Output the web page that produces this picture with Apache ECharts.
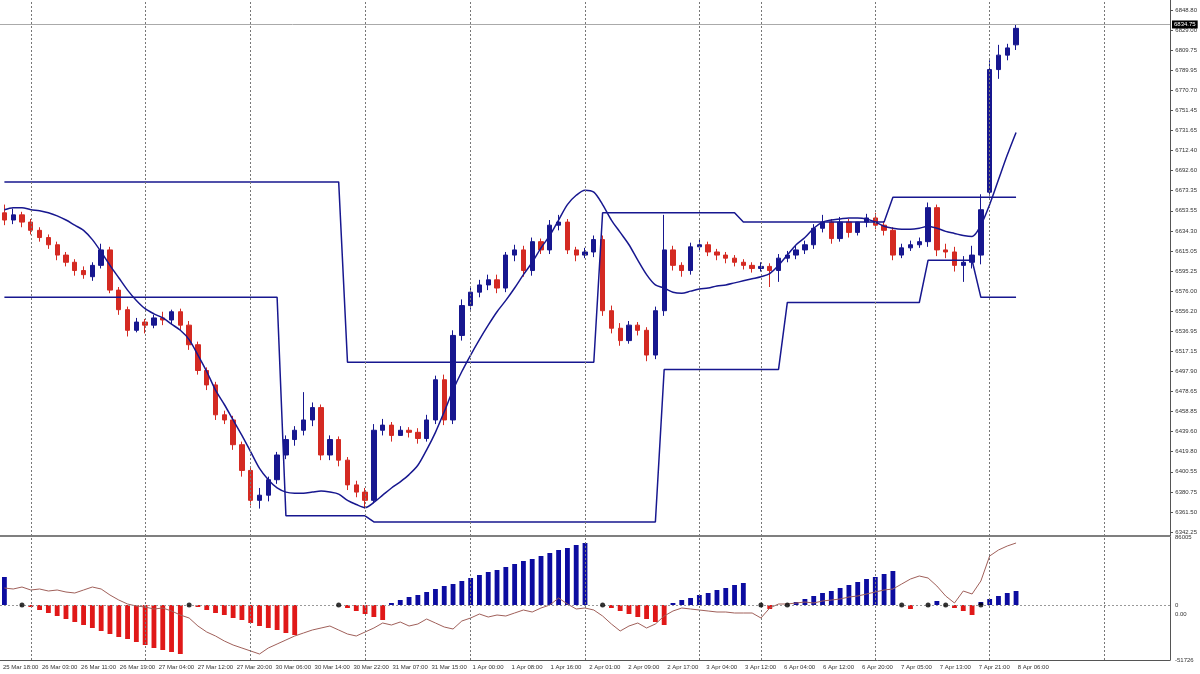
<!DOCTYPE html>
<html><head><meta charset="utf-8">
<script src="https://cdn.jsdelivr.net/npm/echarts@6/dist/echarts.min.js"></script>
<style>html,body{margin:0;padding:0;background:#fff}#c{width:1200px;height:674px}</style>
</head><body><div id="c"></div>
<script>
const opens = [6652,6645,6650,6643,6635,6628,6621,6611,6604,6596,
6590,6601,6616,6577,6558,6538,6546,6543,6550,6548,
6556,6543,6524,6499,6485,6456,6451,6427,6402,6373,
6378,6393,6417,6432,6441,6451,6463,6417,6432,6412,
6388,6381,6373,6441,6446,6436,6441,6439,6433,6451,
6490,6451,6533,6562,6575,6582,6587,6579,6611,6616,
6596,6624,6616,6640,6643,6616,6611,6614,6626,6557,
6540,6528,6543,6538,6514,6557,6616,6601,6596,6619,
6621,6614,6611,6608,6604,6601,6598,6600,6596,6608,
6611,6616,6621,6637,6643,6627,6643,6633,6643,6647,
6640,6635,6611,6618,6621,6624,6657,6616,6614,6601,
6604,6611,6672,6791,6805,6815];
const closes = [6645,6650,6643,6635,6628,6621,6611,6604,6596,6592,
6601,6616,6577,6558,6538,6546,6543,6550,6548,6556,
6543,6524,6499,6485,6456,6451,6427,6402,6373,6378,
6393,6417,6432,6441,6451,6463,6417,6432,6412,6388,
6381,6373,6441,6446,6436,6441,6439,6433,6451,6490,
6451,6533,6562,6575,6582,6587,6579,6611,6616,6596,
6624,6616,6640,6643,6616,6611,6614,6626,6557,6540,
6528,6543,6538,6514,6557,6616,6601,6596,6619,6621,
6614,6611,6608,6604,6601,6598,6600,6596,6608,6611,
6616,6621,6637,6643,6627,6643,6633,6643,6647,6640,
6635,6611,6618,6621,6624,6657,6616,6614,6601,6604,
6611,6655,6791,6805,6812,6831];
const highs = [6660,6656,6653,6646,6638,6631,6624,6614,6607,6600,
6604,6622,6619,6580,6561,6550,6549,6553,6556,6558,
6559,6547,6527,6502,6488,6460,6455,6430,6406,6385,
6396,6420,6436,6445,6478,6468,6466,6436,6435,6415,
6392,6385,6447,6452,6449,6445,6444,6443,6456,6494,
6495,6538,6568,6580,6587,6592,6592,6614,6621,6620,
6628,6627,6645,6650,6646,6619,6618,6630,6630,6562,
6545,6547,6546,6541,6561,6650,6620,6604,6623,6627,
6624,6617,6614,6611,6607,6604,6604,6603,6612,6615,
6620,6625,6641,6650,6646,6648,6646,6640,6651,6652,
6644,6638,6622,6625,6628,6662,6660,6622,6619,6610,
6620,6670,6800,6815,6816,6835];
const lows = [6640,6641,6638,6631,6624,6617,6606,6600,6591,6588,
6586,6598,6574,6553,6532,6536,6535,6540,6543,6544,
6538,6519,6495,6480,6451,6447,6422,6396,6368,6365,
6372,6389,6413,6426,6436,6445,6412,6412,6406,6383,
6376,6365,6370,6436,6430,6436,6434,6428,6430,6447,
6446,6447,6528,6558,6570,6577,6574,6575,6605,6590,
6591,6612,6612,6635,6612,6605,6608,6609,6552,6535,
6523,6525,6533,6508,6510,6552,6596,6590,6592,6614,
6610,6606,6603,6600,6597,6594,6595,6580,6585,6604,
6607,6612,6617,6633,6622,6624,6628,6630,6638,6636,
6630,6606,6608,6615,6618,6619,6610,6608,6595,6585,
6598,6602,6668,6782,6800,6810];
const maLine = [6655,6657,6657,6655,6654,6652,6649,6645,6640,6635,
6626,6614,6601,6589,6577,6567,6559,6554,6550,6544,
6538,6529,6514,6498,6480,6466,6451,6436,6420,6404,
6393,6385,6381,6380,6380,6381,6382,6381,6379,6373,
6369,6366,6371,6378,6385,6391,6398,6407,6422,6439,
6459,6480,6498,6514,6529,6543,6556,6567,6579,6592,
6604,6618,6630,6645,6660,6669,6674,6672,6660,6645,
6633,6621,6606,6592,6582,6579,6575,6574,6576,6578,
6579,6581,6582,6584,6586,6588,6590,6593,6601,6611,
6621,6628,6637,6643,6645,6646,6647,6647,6646,6643,
6639,6637,6636,6636,6637,6639,6637,6634,6632,6630,
6629,6640,6660,6684,6708,6730];
const upperBand = [[0,6682],[38,6682],[39,6507],[67,6507],[68,6652],[83,6652],[84,6643],[100,6643],[101,6667],[115,6667]];
const lowerBand = [[0,6570],[31,6570],[32,6358],[41,6358],[42,6352],[74,6352],[75,6500],[88,6500],[89,6565],[104,6565],[105,6606],[110,6606],[111,6570],[115,6570]];
const histValues = [28,'-','-',
-2,-5,-8,-11,-14,-17,-20,-23,-26,-29,-32,-34,-37,-40,-43,-45,-47,-49,
'-',
-2,-5,-8,-10,-13,-15,-18,-21,-23,-25,-28,-30,
'-','-','-','-','-',
-3,-6,-9,-12,-15,
2,5,8,10,13,16,19,21,24,27,30,33,35,38,41,44,46,49,52,55,57,60,62,
'-','-',
-3,-6,-9,-12,-14,-17,-20,
2,5,7,10,12,15,17,20,22,
'-','-',-4,'-','-',
3,6,9,12,14,17,20,23,26,28,31,34,
'-',-4,'-','-',4,'-',-3,-6,-10,
3,6,9,12,14];
const dotIdx = [2,21,38,68,86,89,102,105,107,111];
const flowLine = [26,25,27,24,25,23,24,22,21,24,
27,25,19,14,10,8,7,5,6,3,
-1,-4,-12,-18,-22,-27,-31,-34,-37,-40,
-34,-30,-26,-22,-19,-16,-14,-12,-16,-20,
-22,-18,-14,-9,-11,-8,-12,-10,-5,-9,
-13,-15,-7,-4,0,-3,-1,-2,1,4,
2,6,9,16,10,5,6,4,-2,-10,
-17,-12,-9,-14,-10,-2,3,6,5,4,
3,2,2,1,1,1,-4,6,10,10,
11,12,11,13,14,15,17,18,20,22,
24,25,30,35,38,36,28,18,11,23,
20,33,58,64,68,71];
const daySeparators = [3,16,28,41,53,66,79,86,99,112,125];
const priceTicks = ['6342.25','6361.50','6380.75','6400.55','6419.80','6439.60','6458.85','6478.65','6497.90','6517.15','6536.95','6556.20','6576.00','6595.25','6615.05','6634.30','6653.55','6673.35','6692.60','6712.40','6731.65','6751.45','6770.70','6789.95','6809.75','6829.00','6848.80'];
const timeLabels = ['25 Mar 18:00','26 Mar 03:00','26 Mar 11:00','26 Mar 19:00','27 Mar 04:00','27 Mar 12:00','27 Mar 20:00','30 Mar 06:00','30 Mar 14:00','30 Mar 22:00','31 Mar 07:00','31 Mar 15:00','1 Apr 00:00','1 Apr 08:00','1 Apr 16:00','2 Apr 01:00','2 Apr 09:00','2 Apr 17:00','3 Apr 04:00','3 Apr 12:00','6 Apr 04:00','6 Apr 12:00','6 Apr 20:00','7 Apr 05:00','7 Apr 13:00','7 Apr 21:00','8 Apr 06:00','','','',''];
const lastPrice = 6834.75;

const NB = 133;
const cats = Array.from({length:NB},(_,i)=>String(i));
const ohlc = opens.map((o,i)=>[o,closes[i],lows[i],highs[i]]);
const BLUE='#17178f', RED='#d42a22', FONT='Liberation Sans';
const sepLines = daySeparators.map(i=>({xAxis:String(i),lineStyle:{color:'#777',type:[2,2],width:1},label:{show:false}}));

const chart = echarts.init(document.getElementById('c'));
chart.setOption({
  animation:false, backgroundColor:'#fff',
  grid:[
    {left:0,width:1170,top:0,height:536},
    {left:0,width:1170,top:537,height:123},
    {left:1170,width:1,top:10,height:522},
    {left:19,width:1170,top:660,height:1}
  ],
  xAxis:[
    {gridIndex:0,type:'category',data:cats,axisLine:{show:true,onZero:false,lineStyle:{color:'#555',width:1.5}},axisTick:{show:false},axisLabel:{show:false},splitLine:{show:false}},
    {gridIndex:1,type:'category',data:cats,axisLine:{show:true,onZero:false,lineStyle:{color:'#555',width:1}},axisTick:{show:false},axisLabel:{show:false}},
    {gridIndex:2,type:'value',show:false},
    {gridIndex:3,type:'category',data:timeLabels,boundaryGap:false,axisLine:{show:false,onZero:false},axisTick:{show:false},
     axisLabel:{interval:0,fontSize:6,fontFamily:FONT,color:'#333',margin:3,hideOverlap:false}}
  ],
  yAxis:[
    {gridIndex:0,type:'value',min:6338.4,max:6858.5,position:'right',axisLine:{show:true,lineStyle:{color:'#555'}},axisTick:{show:false},axisLabel:{show:false},splitLine:{show:false}},
    {gridIndex:1,type:'value',min:-55,max:68,interval:55,position:'right',axisLine:{show:true,lineStyle:{color:'#555'}},axisTick:{show:false},splitLine:{show:false},
     axisLabel:{showMaxLabel:true,fontSize:6,fontFamily:FONT,color:'#333',margin:5,
       formatter:v=>v===68?'86005':v===0?'0':v===-55?'-51726':''}},
    {gridIndex:1,type:'value',min:-46,max:77,interval:46,position:'right',axisLine:{show:false},axisTick:{show:false},splitLine:{show:false},
     axisLabel:{fontSize:6,fontFamily:FONT,color:'#333',margin:5,formatter:v=>v===0?'0.00':''}},
    {gridIndex:2,type:'category',data:priceTicks,boundaryGap:false,position:'right',axisLine:{show:false},
     axisTick:{show:true,length:3,lineStyle:{color:'#555'}},axisLabel:{interval:0,fontSize:6,fontFamily:FONT,color:'#333',margin:5}},
    {gridIndex:3,type:'value',show:false}
  ],
  series:[
    {type:'candlestick',xAxisIndex:0,yAxisIndex:0,data:ohlc,barWidth:'55%',
     itemStyle:{color:BLUE,color0:RED,borderColor:BLUE,borderColor0:RED,borderWidth:1},
     markLine:{symbol:'none',silent:true,animation:false,
       data:[
        {yAxis:lastPrice,lineStyle:{color:'#aaa',type:'solid',width:1},
         label:{show:true,position:'end',formatter:'6834.75',backgroundColor:'#000',color:'#fff',fontSize:6,fontFamily:FONT,padding:[1,2],distance:2}},
        ...sepLines
       ]}},
    {type:'line',xAxisIndex:0,yAxisIndex:0,data:maLine,symbol:'none',smooth:0.3,lineStyle:{color:BLUE,width:1.5}},
    {type:'line',xAxisIndex:0,yAxisIndex:0,data:upperBand,symbol:'none',lineStyle:{color:BLUE,width:1.5}},
    {type:'line',xAxisIndex:0,yAxisIndex:0,data:lowerBand,symbol:'none',lineStyle:{color:BLUE,width:1.5}},
    {type:'bar',xAxisIndex:1,yAxisIndex:1,data:histValues,barWidth:'55%',
     itemStyle:{color:p=>p.value<0?'#e01818':'#0c0ca0'},
     markLine:{symbol:'none',silent:true,label:{show:false},
       data:[{yAxis:0,lineStyle:{color:'#999',type:[2,2],width:1}},...sepLines]}},
    {type:'line',xAxisIndex:1,yAxisIndex:2,data:flowLine,symbol:'none',lineStyle:{color:'#a0605a',width:1}},
    {type:'scatter',xAxisIndex:1,yAxisIndex:1,data:dotIdx.map(i=>[String(i),0]),symbolSize:5,itemStyle:{color:'#000'},z:5}
  ]
});
</script></body></html>
